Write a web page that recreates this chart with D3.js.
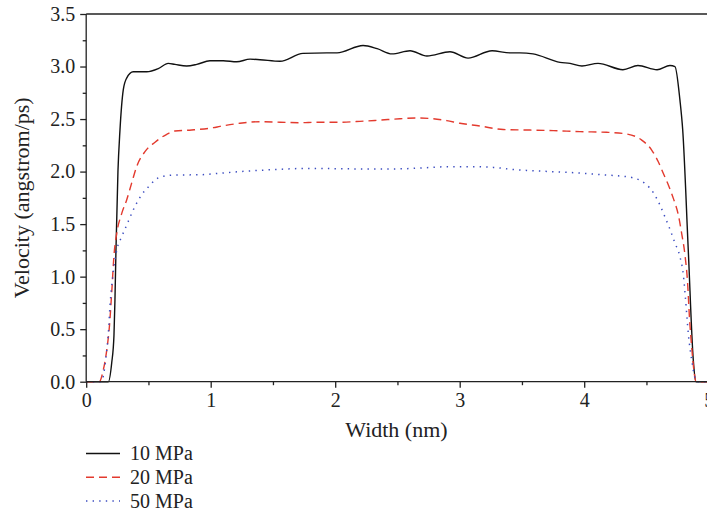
<!DOCTYPE html>
<html>
<head>
<meta charset="utf-8">
<script src="https://cdn.jsdelivr.net/npm/d3@7"></script>
<style>
  html, body { margin: 0; padding: 0; background: #fff; }
  svg { display: block; }
  svg text { font-family: "Liberation Serif", "Tinos", "Times New Roman", "DejaVu Serif", serif !important; fill: #222; }
</style>
</head>
<body>
<svg id="chart" width="707" height="511"></svg>
<script>
// Velocity profiles across the channel width (nm -> angstrom/ps)
const series10 = [
  [0, 0], [0.178, 0], [0.205, 0.18], [0.223, 0.44], [0.231, 0.78], [0.239, 1.25],
  [0.255, 2.0], [0.271, 2.39], [0.298, 2.78], [0.325, 2.89], [0.378, 2.95], [0.486, 2.95],
  [0.579, 2.98], [0.659, 3.03], [0.713, 3.02], [0.807, 3.005], [0.888, 3.02], [0.994, 3.055],
  [1.101, 3.055], [1.209, 3.045], [1.316, 3.07], [1.396, 3.065], [1.557, 3.05], [1.741, 3.125],
  [1.934, 3.13], [2.015, 3.13], [2.224, 3.2], [2.337, 3.17], [2.456, 3.12], [2.601, 3.15],
  [2.737, 3.1], [2.922, 3.14], [3.067, 3.08], [3.26, 3.15], [3.404, 3.13], [3.484, 3.13],
  [3.589, 3.12], [3.806, 3.04], [3.886, 3.03], [3.982, 3.005], [4.111, 3.03], [4.311, 2.97],
  [4.432, 3.01], [4.585, 2.97], [4.689, 3.01], [4.729, 3.0], [4.769, 2.68], [4.791, 2.4],
  [4.836, 1.25], [4.876, 0.21], [4.898, 0], [5, 0]
];
const series20 = [
  [0, 0], [0.105, 0], [0.137, 0.11], [0.165, 0.3], [0.186, 0.52], [0.205, 0.85],
  [0.223, 1.2], [0.245, 1.41], [0.285, 1.6], [0.325, 1.73], [0.365, 1.89], [0.406, 2.05],
  [0.472, 2.19], [0.553, 2.28], [0.647, 2.355], [0.713, 2.386], [0.847, 2.396], [1.021, 2.418],
  [1.075, 2.43], [1.235, 2.46], [1.396, 2.475], [1.557, 2.47], [1.717, 2.465], [1.851, 2.47],
  [2.038, 2.47], [2.199, 2.478], [2.359, 2.49], [2.52, 2.503], [2.654, 2.51], [2.788, 2.503],
  [2.896, 2.485], [3.002, 2.46], [3.163, 2.434], [3.35, 2.4], [3.538, 2.396], [3.752, 2.39],
  [3.966, 2.38], [4.181, 2.374], [4.341, 2.358], [4.462, 2.3], [4.542, 2.205], [4.595, 2.094],
  [4.635, 1.984], [4.676, 1.872], [4.716, 1.745], [4.756, 1.587], [4.783, 1.41], [4.81, 1.2],
  [4.83, 0.95], [4.846, 0.6], [4.862, 0.35], [4.882, 0.1], [4.898, 0], [5, 0]
];
const series50 = [
  [0, 0], [0.119, 0], [0.137, 0.05], [0.159, 0.24], [0.178, 0.46], [0.191, 0.72],
  [0.213, 1.0], [0.245, 1.25], [0.285, 1.38], [0.325, 1.49], [0.365, 1.6], [0.392, 1.67],
  [0.446, 1.78], [0.512, 1.87], [0.553, 1.92], [0.601, 1.95], [0.713, 1.967], [0.914, 1.97],
  [1.075, 1.984], [1.235, 2.0], [1.396, 2.012], [1.61, 2.025], [1.771, 2.03], [1.985, 2.028],
  [2.253, 2.025], [2.414, 2.025], [2.574, 2.028], [2.735, 2.037], [2.896, 2.046], [3.109, 2.046],
  [3.27, 2.04], [3.43, 2.02], [3.645, 2.005], [3.912, 1.99], [4.181, 1.967], [4.288, 1.958],
  [4.394, 1.94], [4.488, 1.888], [4.555, 1.8], [4.609, 1.68], [4.648, 1.57], [4.689, 1.45],
  [4.729, 1.32], [4.769, 1.19], [4.796, 1.02], [4.813, 0.8], [4.836, 0.46], [4.863, 0.21],
  [4.89, 0.035], [4.906, 0], [5, 0]
];
const seriesNames = ["10 MPa", "20 MPa", "50 MPa"];
const xTicks = [0, 1, 2, 3, 4, 5];
const yTicks = [0, 0.5, 1.0, 1.5, 2.0, 2.5, 3.0, 3.5];

const FONT = "'Liberation Serif', Tinos, 'Times New Roman', 'DejaVu Serif', serif";
const svg = d3.select("#chart");
const plot = { left: 86.2, right: 708.7, top: 14, bottom: 381.7 };

const x = d3.scaleLinear().domain([0, 5]).range([plot.left, plot.right]);
const y = d3.scaleLinear().domain([0, 3.5]).range([plot.bottom, plot.top]);

const styles = [
  { color: "#111111", dash: null, width: 1.4 },
  { color: "#e33a2e", dash: "8,5", width: 1.4 },
  { color: "#3b4cc0", dash: "1.4,5.2", width: 1.5 }
];
const allSeries = [series10, series20, series50];

// frame (top and right border)
svg.append("line")
  .attr("x1", plot.left).attr("x2", plot.right)
  .attr("y1", plot.top).attr("y2", plot.top)
  .attr("stroke", "#222").attr("stroke-width", 1.3);
svg.append("line")
  .attr("x1", plot.right).attr("x2", plot.right)
  .attr("y1", plot.top).attr("y2", plot.bottom)
  .attr("stroke", "#222").attr("stroke-width", 1.3);

// curves
const line = d3.line().x(d => x(d[0])).y(d => y(d[1])).curve(d3.curveMonotoneX);
const curves = svg.append("g");
allSeries.forEach((s, i) => {
  curves.append("path")
    .datum(s)
    .attr("d", line)
    .attr("fill", "none")
    .attr("stroke", styles[i].color)
    .attr("stroke-width", styles[i].width)
    .attr("stroke-dasharray", styles[i].dash)
    .attr("stroke-linejoin", "round");
});

// x axis with minor ticks
const xMinor = d3.range(0.5, 5, 1);
const gx = svg.append("g").attr("transform", `translate(0,${plot.bottom})`);
gx.call(d3.axisBottom(x).tickValues(xMinor).tickSize(3.5).tickFormat(""));
gx.call(g => g.selectAll(".domain").remove());
const gxMajor = svg.append("g").attr("transform", `translate(0,${plot.bottom})`)
  .call(d3.axisBottom(x).tickValues(xTicks).tickSize(6).tickPadding(5).tickFormat(d3.format("d")));
gxMajor.select(".domain").attr("d", `M${plot.left},0H${plot.right}`);

// y axis with minor ticks
const yMinor = d3.range(0.25, 3.5, 0.5);
const gy = svg.append("g").attr("transform", `translate(${plot.left},0)`);
gy.call(d3.axisLeft(y).tickValues(yMinor).tickSize(3.5).tickFormat(""));
gy.call(g => g.selectAll(".domain").remove());
const gyMajor = svg.append("g").attr("transform", `translate(${plot.left},0)`)
  .call(d3.axisLeft(y).tickValues(yTicks).tickSize(6).tickPadding(5).tickFormat(d3.format(".1f")));
gyMajor.select(".domain").attr("d", `M0,${plot.top}V${plot.bottom}`);

svg.selectAll("g").attr("font-family", FONT);
svg.selectAll(".domain, .tick line").attr("stroke", "#222").attr("stroke-width", 1.3);
svg.selectAll(".tick text")
  .attr("font-size", 20).attr("fill", "#222");

// axis titles
svg.append("text")
  .attr("x", (plot.left + plot.right) / 2 - 1).attr("y", 437)
  .attr("text-anchor", "middle").attr("font-size", 22).attr("font-family", FONT)
  .text("Width (nm)");
svg.append("text")
  .attr("transform", `translate(29,${(plot.top + plot.bottom) / 2}) rotate(-90)`)
  .attr("text-anchor", "middle").attr("font-size", 22).attr("font-family", FONT)
  .text("Velocity (angstrom/ps)");

// legend
const legend = svg.append("g").attr("font-family", FONT);
seriesNames.forEach((name, i) => {
  const ly = 453.5 + i * 23.8;
  legend.append("line")
    .attr("x1", 86).attr("x2", 120).attr("y1", ly).attr("y2", ly)
    .attr("stroke", styles[i].color)
    .attr("stroke-width", styles[i].width)
    .attr("stroke-dasharray", styles[i].dash);
  legend.append("text")
    .attr("x", 130).attr("y", ly + 6.5)
    .attr("font-size", 20)
    .text(name);
});
</script>
</body>
</html>
